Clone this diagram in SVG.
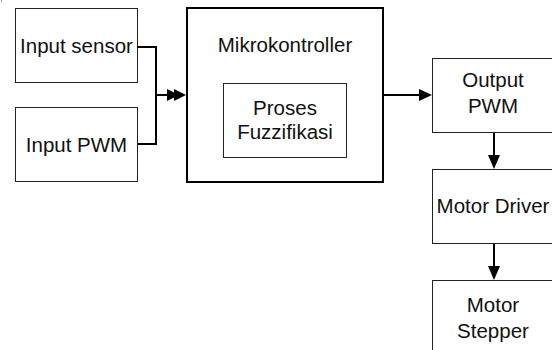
<svg xmlns="http://www.w3.org/2000/svg" width="552" height="350" viewBox="0 0 552 350">
  <defs>
    <style>
      .box { fill: #ffffff; stroke: #222222; stroke-width: 1; }
      .main { fill: #ffffff; stroke: #000000; stroke-width: 2; }
      .lbl { font-family: "Liberation Sans", Arial, sans-serif; font-size: 20.5px; fill: #111111; text-anchor: middle; }
      .wire { fill: none; stroke: #000000; stroke-width: 2; }
      .head { fill: #000000; stroke: none; }
    </style>
  </defs>
  <rect width="552" height="350" fill="#ffffff"/>
  <!-- small corner tick -->
  <path d="M1.5,0 V2.5" stroke="#999999" stroke-width="1" fill="none"/>

  <g id="input-sensor">
    <rect class="box" x="15.5" y="8.5" width="122" height="74"/>
    <text class="lbl" x="76.5" y="53">Input sensor</text>
  </g>
  <g id="input-pwm">
    <rect class="box" x="15.5" y="107.5" width="122" height="74"/>
    <text class="lbl" x="76.5" y="152">Input PWM</text>
  </g>
  <g id="mikrokontroller">
    <rect class="main" x="187" y="8" width="196" height="174"/>
    <text class="lbl" x="285" y="52">Mikrokontroller</text>
  </g>
  <g id="proses-fuzzifikasi">
    <rect class="box" x="223.5" y="83.5" width="123" height="74"/>
    <text class="lbl" x="285" y="115">Proses</text>
    <text class="lbl" x="285" y="139">Fuzzifikasi</text>
  </g>
  <g id="output-pwm">
    <rect class="box" x="432.5" y="58.5" width="130" height="74"/>
    <text class="lbl" x="493" y="87">Output</text>
    <text class="lbl" x="493" y="113">PWM</text>
  </g>
  <g id="motor-driver">
    <rect class="box" x="432.5" y="169.5" width="130" height="74"/>
    <text class="lbl" x="493" y="213">Motor Driver</text>
  </g>
  <g id="motor-stepper">
    <rect class="box" x="432.5" y="280.5" width="130" height="80"/>
    <text class="lbl" x="493" y="312">Motor</text>
    <text class="lbl" x="493" y="338">Stepper</text>
  </g>

  <g id="connectors">
    <!-- inputs merge into the controller -->
    <path class="wire" d="M137.5,47 H156 V144 H137.5"/>
    <path class="wire" d="M156,95 H176"/>
    <polygon class="head" points="167,89 179,95 167,101"/>
    <polygon class="head" points="174,89 186,95 174,101"/>
    <!-- controller to output -->
    <path class="wire" d="M383,95 H420"/>
    <polygon class="head" points="419,89 432,95 419,101"/>
    <!-- output chain -->
    <path class="wire" d="M494,133 V156"/>
    <polygon class="head" points="488,155 500,155 494,169"/>
    <path class="wire" d="M494,244 V267"/>
    <polygon class="head" points="488,266 500,266 494,280"/>
  </g>
</svg>
